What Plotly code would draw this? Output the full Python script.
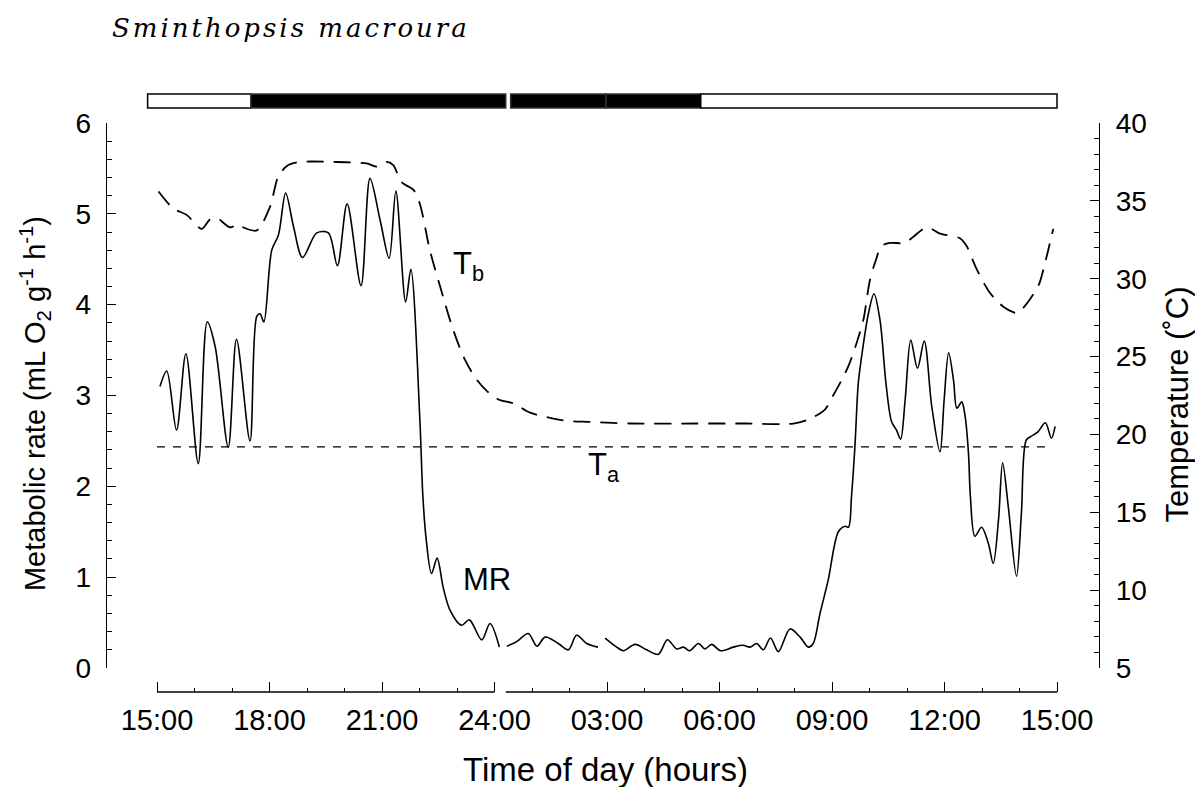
import plotly.graph_objects as go

# ---------------------------------------------------------------
# Time axis: hours elapsed since 15:00 on day 1
# (0 = 15:00, 9 = 24:00, 12 = 03:00, 24 = 15:00 on day 2)
# ---------------------------------------------------------------

# Metabolic rate (mL O2 g-1 h-1), evening / torpor-entry segment
mr_eve_t = [0.08, 0.26, 0.52, 0.77, 1.10, 1.34, 1.55, 1.90, 2.12, 2.48, 2.66, 2.75,
            2.85, 3.06, 3.24, 3.43, 3.64, 3.88, 4.26, 4.57, 4.81, 5.07, 5.44, 5.68,
            5.95, 6.19, 6.37, 6.63, 6.77, 7.01, 7.09, 7.18, 7.32, 7.47, 7.63, 7.81,
            8.12, 8.33, 8.66, 8.88, 9.13]
mr_eve = [3.10, 3.27, 2.62, 3.46, 2.25, 3.81, 3.54, 2.43, 3.62, 2.50, 3.87, 3.90,
          3.81, 4.60, 4.77, 5.23, 4.86, 4.52, 4.79, 4.79, 4.43, 5.11, 4.21, 5.39,
          4.93, 4.51, 5.25, 4.03, 4.39, 2.73, 1.89, 1.41, 1.04, 1.21, 0.89, 0.64,
          0.47, 0.53, 0.31, 0.49, 0.23]

# Metabolic rate after midnight, first recording segment
mr_night_t = [9.33, 9.59, 9.90, 10.13, 10.35, 10.70, 10.97, 11.19, 11.46, 11.76]
mr_night = [0.24, 0.29, 0.38, 0.24, 0.34, 0.27, 0.20, 0.36, 0.27, 0.23]

# Metabolic rate, torpor bout, arousal and following day
mr_day_t = [11.95, 12.26, 12.44, 12.75, 13.06, 13.37, 13.61, 13.86, 14.04, 14.20,
            14.44, 14.61, 14.79, 15.03, 15.37, 15.63, 15.81, 15.99, 16.17, 16.36,
            16.57, 16.88, 17.15, 17.37, 17.50, 17.68, 17.90, 18.17, 18.35, 18.44,
            18.52, 18.61, 18.70, 18.79, 18.97, 19.12, 19.28, 19.44, 19.59, 19.72,
            19.83, 19.95, 20.10, 20.28, 20.46, 20.66, 20.88, 20.99, 21.11, 21.24,
            21.33, 21.46, 21.55, 21.64, 21.69, 21.81, 21.99, 22.17, 22.30, 22.44,
            22.55, 22.70, 22.92, 23.05, 23.18, 23.31, 23.49, 23.69, 23.85, 23.95]
mr_day = [0.33, 0.23, 0.19, 0.26, 0.20, 0.15, 0.31, 0.21, 0.23, 0.19,
          0.27, 0.21, 0.26, 0.19, 0.23, 0.25, 0.23, 0.27, 0.20, 0.33,
          0.18, 0.43, 0.34, 0.23, 0.27, 0.60, 0.97, 1.50, 1.56, 1.55,
          1.89, 2.43, 3.13, 3.43, 3.90, 4.12, 3.83, 3.13, 2.71, 2.62,
          2.52, 2.95, 3.61, 3.30, 3.60, 2.88, 2.38, 2.95, 3.47, 3.17,
          2.86, 2.93, 2.77, 2.36, 1.89, 1.45, 1.55, 1.37, 1.15, 1.63,
          2.26, 1.78, 1.01, 1.70, 2.51, 2.55, 2.60, 2.70, 2.53, 2.66]

# Body temperature Tb (°C)
tb_t = [0.04, 0.44, 0.79, 1.19, 1.41, 1.59, 1.95, 2.17, 2.30, 2.66, 3.01, 3.24,
        3.50, 3.81, 4.70, 5.59, 5.86, 6.12, 6.30, 6.52, 6.84, 7.01, 7.28, 7.55,
        7.90, 8.21, 8.53, 8.88, 9.15, 9.50, 9.95, 10.83, 11.55, 12.61, 14.39,
        15.73, 16.97, 17.41, 17.81, 18.03, 18.26, 18.44, 18.66, 18.84, 19.01,
        19.17, 19.32, 19.55, 19.95, 20.17, 20.53, 20.88, 21.41, 21.59, 21.86,
        22.21, 22.57, 22.93, 23.09, 23.37, 23.53, 23.68, 23.90]
tb = [35.6, 34.5, 34.1, 33.2, 33.8, 33.9, 33.3, 33.5, 33.3, 33.1, 34.6, 36.6,
      37.3, 37.5, 37.5, 37.4, 37.2, 37.5, 37.3, 36.2, 35.7, 34.8, 31.8, 29.5,
      26.7, 24.8, 23.5, 22.6, 22.2, 22.0, 21.4, 20.9, 20.8, 20.7, 20.7,
      20.7, 20.7, 21.0, 21.6, 22.5, 23.5, 24.4, 25.9, 27.4, 29.9,
      31.2, 32.1, 32.3, 32.3, 32.7, 33.3, 32.9, 32.6, 32.1, 30.6,
      29.1, 28.2, 27.8, 28.1, 29.0, 29.7, 31.0, 33.2]

# Ambient temperature Ta (°C)
ta_t = [0.0, 23.8]
ta = [19.2, 19.2]

# Time-of-day ticks
tick_hours = [0, 3, 6, 9, 12, 15, 18, 21, 24]
tick_labels = ["15:00", "18:00", "21:00", "24:00", "03:00",
               "06:00", "09:00", "12:00", "15:00"]
minor_hours = [h for h in range(1, 24) if h % 3 != 0]

# Photoperiod bar: (start, end, dark?)
photo_start = [-0.25, 2.5, 9.43, 11.97, 14.5]
photo_end = [2.5, 9.3, 11.97, 14.5, 24.0]
photo_dark = [False, True, True, True, False]

# Pieces of the time axis line (broken at midnight)
axis_start = [0.0, 9.3]
axis_end = [9.0, 24.0]

SANS = "Liberation Sans, Arial, sans-serif"
INK = "black"

fig = go.Figure()

# Metabolic rate (solid), three recording pieces separated by gaps
fig.add_trace(go.Scatter(
    x=mr_eve_t + [None] + mr_night_t + [None] + mr_day_t,
    y=mr_eve + [None] + mr_night + [None] + mr_day,
    mode="lines", line=dict(color=INK, width=1.6, shape="spline", smoothing=0.9),
    connectgaps=False, showlegend=False, yaxis="y"))

# Body temperature (long dashes)
fig.add_trace(go.Scatter(
    x=tb_t, y=tb, mode="lines",
    line=dict(color=INK, width=1.8, shape="spline", smoothing=0.8, dash="17px,10px"),
    showlegend=False, yaxis="y2"))

# Ambient temperature (short dashes)
fig.add_trace(go.Scatter(
    x=ta_t, y=ta, mode="lines",
    line=dict(color=INK, width=1.3, dash="8px,8px"),
    showlegend=False, yaxis="y2"))

shapes = []
# light/dark bar above the plot
for s, e, d in zip(photo_start, photo_end, photo_dark):
    shapes.append(dict(type="rect", xref="x", yref="paper", x0=s, x1=e,
                       y0=1.0264, y1=1.0510,
                       fillcolor=INK if d else "white",
                       line=dict(color=INK if not d else "#333333", width=1.5)))
# broken time axis line
for s, e in zip(axis_start, axis_end):
    shapes.append(dict(type="line", xref="x", yref="paper", x0=s, x1=e,
                       y0=0, y1=0, line=dict(color=INK, width=1.4)))

annotations = [
    dict(text='<i><span style="letter-spacing:3px">Sminthopsis macroura</span></i>',
         xref="paper", yref="paper",
         x=0.004, y=1.167, xanchor="left", yanchor="middle", showarrow=False,
         font=dict(family="DejaVu Serif", size=26, color=INK)),
    dict(text="Metabolic rate (mL O<sub>2</sub> g<sup>-1</sup> h<sup>-1</sup>)",
         xref="paper", yref="paper", x=-0.0715, y=0.506, textangle=-90,
         xanchor="center", yanchor="middle", showarrow=False,
         font=dict(family=SANS, size=29, color=INK)),
    dict(text="Temperature (˚C)", xref="paper", yref="paper", x=1.079, y=0.506,
         textangle=-90, xanchor="center", yanchor="middle", showarrow=False,
         font=dict(family=SANS, size=31, color=INK)),
    dict(text="Time of day (hours)", xref="paper", yref="paper", x=0.503, y=-0.137,
         xanchor="center", yanchor="middle", showarrow=False,
         font=dict(family=SANS, size=33, color=INK)),
    dict(text="T<sub>b</sub>", xref="x", yref="y", x=7.85, y=4.43,
         xanchor="left", yanchor="middle", showarrow=False,
         font=dict(family=SANS, size=31, color=INK)),
    dict(text="T<sub>a</sub>", xref="x", yref="y", x=11.45, y=2.21,
         xanchor="left", yanchor="middle", showarrow=False,
         font=dict(family=SANS, size=31, color=INK)),
    dict(text="MR", xref="x", yref="y", x=8.1, y=0.97,
         xanchor="left", yanchor="middle", showarrow=False,
         font=dict(family=SANS, size=31, color=INK)),
]

fig.update_layout(
    width=1195, height=787,
    margin=dict(l=106, r=96, t=123, b=95),
    paper_bgcolor="white", plot_bgcolor="white",
    showlegend=False,
    shapes=shapes, annotations=annotations,
    xaxis=dict(range=[(106 - 157) / 37.5, (1099 - 157) / 37.5],
               anchor="free", position=0,
               tickmode="array", tickvals=tick_hours, ticktext=tick_labels,
               ticks="inside", ticklen=10, tickwidth=1.4, tickcolor=INK,
               minor=dict(tickmode="array", tickvals=minor_hours, ticks="inside",
                          ticklen=4, tickwidth=1.2, tickcolor=INK),
               showline=False, showgrid=False, zeroline=False,
               ticklabelstandoff=8,
               tickfont=dict(family=SANS, size=29, color=INK)),
    yaxis=dict(range=[0, 6], domain=[0.0422, 1], anchor="free", position=0,
               tickvals=[0, 1, 2, 3, 4, 5, 6],
               ticks="inside", ticklen=9, tickwidth=1.4, tickcolor=INK,
               minor=dict(dtick=0.2, ticks="inside", ticklen=5, tickwidth=1.2,
                          tickcolor=INK),
               showline=True, linecolor=INK, linewidth=1.4,
               showgrid=False, zeroline=False, ticklabelstandoff=9,
               tickfont=dict(family=SANS, size=28, color=INK)),
    yaxis2=dict(range=[5, 40], domain=[0.0422, 1], overlaying="y", side="right",
                anchor="free", position=1,
                tickvals=[5, 10, 15, 20, 25, 30, 35, 40],
                ticks="inside", ticklen=9, tickwidth=1.4, tickcolor=INK,
                minor=dict(dtick=1, ticks="inside", ticklen=5, tickwidth=1.2,
                           tickcolor=INK),
                showline=True, linecolor=INK, linewidth=1.4,
                showgrid=False, zeroline=False, ticklabelstandoff=10,
                tickfont=dict(family=SANS, size=28, color=INK)),
)

fig.write_html("out.html")
